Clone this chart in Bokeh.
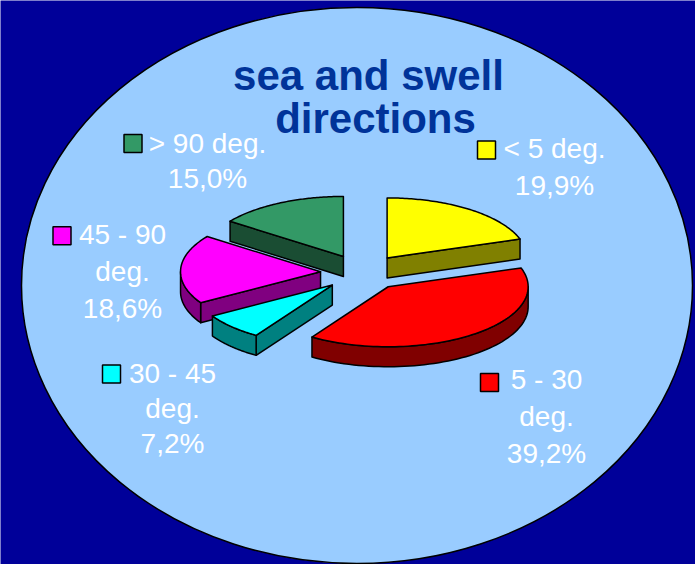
import numpy as np
from bokeh.plotting import figure
from bokeh.models import Range1d
from bokeh.core.properties import value
from bokeh.embed import file_html
from bokeh.resources import INLINE

# ---------------- data ----------------
categories = ["< 5 deg.", "5 - 30 deg.", "30 - 45 deg.", "45 - 90 deg.", "> 90 deg."]
shares = [19.9, 39.2, 7.2, 18.6, 15.0]
label_lines = [["< 5 deg.", "19,9%"],
               ["5 - 30", "deg.", "39,2%"],
               ["30 - 45", "deg.", "7,2%"],
               ["45 - 90", "deg.", "18,6%"],
               ["> 90 deg.", "15,0%"]]
title_lines = ["sea and swell", "directions"]

# ---------------- styles / layout ----------------
top_colors = ["#FFFF00", "#FF0000", "#00FFFF", "#FF00FF", "#339966"]
side_colors = ["#808000", "#800000", "#008080", "#800080", "#1A4D33"]
BG = "#000099"
OVAL = "#99CCFF"
TITLE_COLOR = "#003399"

W, H = 695, 564
CX, CY = 362.0, 272.0        # pie centre (top face)
RX, RY = 140.0, 60.0         # pie radii
DEPTH = 20.0
EXPLODE = 0.3
LABEL_SHIFT = -9.0           # compensation for the renderer's baseline placement
TITLE_SHIFT = -10.0

# label anchors: (square centre x, square centre y, text centre x, first baseline, line step)
label_layout = [(486, 149.5, 554, 157, 36.5),
                (489, 382, 546, 388, 36.8),
                (111, 373.5, 172, 382, 35.0),
                (61.5, 235.3, 122, 242.7, 37.0),
                (132.5, 143, 207, 152, 35.0)]

p = figure(width=W, height=H, x_range=Range1d(0, W), y_range=Range1d(H, 0),
           toolbar_location=None, output_backend="svg", min_border=0,
           background_fill_color=BG, border_fill_color=BG, outline_line_color=None)
p.axis.visible = False
p.grid.visible = False

# background oval
p.ellipse(x=[356.5], y=[285], width=[671], height=[556], fill_color=OVAL,
          line_color="black", line_width=1.5)

# ---------------- pie ----------------
total = sum(shares)
bounds = np.concatenate([[0], np.cumsum(shares)]) / total * 360.0

def pt(ax, ay, th):
    t = np.radians(th)
    return ax + RX * np.sin(t), ay - RY * np.cos(t)

slices = []
for i, s in enumerate(shares):
    a0, a1 = bounds[i], bounds[i + 1]
    mid = np.radians((a0 + a1) / 2)
    ax = CX + EXPLODE * RX * np.sin(mid)
    ay = CY - EXPLODE * RY * np.cos(mid)
    slices.append((ay, i, a0, a1, ax))

for ay, i, a0, a1, ax in sorted(slices):
    walls_x, walls_y = [], []
    mid = (a0 + a1) / 2
    mx, my = pt(0, 0, mid)
    # radial walls
    for a in (a0, a1):
        dx, dy = pt(0, 0, a)
        n = np.array([-dy, dx])
        if n[0] * mx + n[1] * my > 0:
            n = -n
        if n[1] > 1e-6:
            ex, ey = pt(ax, ay, a)
            walls_x.append([ax, ex, ex, ax])
            walls_y.append([ay, ey, ey + DEPTH, ay + DEPTH])
    # outer arc wall (front facing part)
    lo, hi = max(a0, 90.0), min(a1, 270.0)
    if hi > lo:
        th = np.linspace(lo, hi, 60)
        xs, ys = pt(ax, ay, th)
        walls_x.append(list(xs) + list(xs[::-1]))
        walls_y.append(list(ys) + list((ys + DEPTH)[::-1]))
    if walls_x:
        p.patches(walls_x, walls_y, fill_color=side_colors[i], line_color="black",
                  line_width=1.5, line_join="round")
    th = np.linspace(a0, a1, 80)
    xs, ys = pt(ax, ay, th)
    p.patch([ax] + list(xs), [ay] + list(ys), fill_color=top_colors[i],
            line_color="black", line_width=1.5, line_join="round")

# ---------------- labels ----------------
for i, lines in enumerate(label_lines):
    sx, sy, tx, by, step = label_layout[i]
    p.rect(x=[sx], y=[sy], width=18, height=18, fill_color=top_colors[i],
           line_color="black", line_width=1.5)
    p.text(x=[tx] * len(lines),
           y=[by + LABEL_SHIFT + k * step for k in range(len(lines))], text=lines,
           text_font=value("Liberation Sans"), text_font_size=value("28px"),
           text_color="white", text_align="center", text_baseline="alphabetic")

# ---------------- title ----------------
p.text(x=[368, 375], y=[85 + TITLE_SHIFT, 128 + TITLE_SHIFT], text=title_lines,
       text_font=value("Liberation Sans"), text_font_size=value("42px"),
       text_font_style="bold", text_color=TITLE_COLOR,
       text_align="center", text_baseline="alphabetic")

open("out.html", "w").write(file_html(p, INLINE))
